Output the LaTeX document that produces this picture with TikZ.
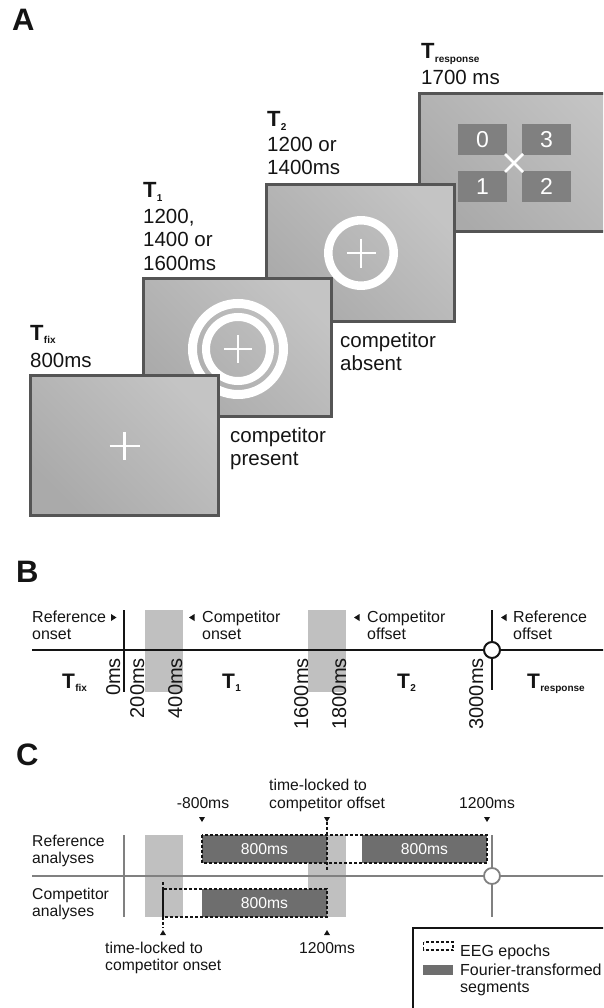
\documentclass[tikz,border=0pt]{standalone}
\usepackage{fontspec}
\setmainfont{Liberation Sans}
\definecolor{scrborder}{RGB}{85,85,85}
\definecolor{scrA}{RGB}{170,170,170}
\definecolor{scrB}{RGB}{196,196,196}
\definecolor{digbox}{RGB}{128,128,128}
\definecolor{bandgray}{RGB}{192,192,192}
\definecolor{axisgray}{RGB}{128,128,128}
\definecolor{seggray}{RGB}{110,110,110}
\definecolor{ink}{RGB}{20,20,20}
\newcommand\fsz[1]{\fontsize{#1}{#1}\selectfont}
\newcommand\Tlabel[3]{{\bfseries\fsz{#1}T}\kern0.3pt\raisebox{-3.5pt}{\bfseries\fsz{#2}#3}}
\begin{document}
\begin{tikzpicture}[x=1pt,y=-1pt,
  screen/.style={draw=scrborder,line width=3.2pt,left color=scrA,right color=scrB,shading angle=135},
  ring/.style={draw=white},
  whitecross/.style={draw=white,line width=2.6pt},
  digitbox/.style={fill=digbox,draw=none,minimum width=49pt,minimum height=31pt,inner sep=0pt,text=white,font=\fsz{23}},
  txtA/.style={font=\fsz{20.5},inner sep=0pt,anchor=base west,text=ink},
  txtB/.style={font=\fsz{16},inner sep=0pt,anchor=base west,text=ink},
  txtC/.style={font=\fsz{15.7},inner sep=0pt,anchor=base west,text=ink},
  txtCc/.style={font=\fsz{15.7},inner sep=0pt,anchor=base,text=ink},
  segtxt/.style={font=\fsz{15.7},inner sep=0pt,text=white},
  rotlab/.style={font=\fsz{20},inner sep=0pt,rotate=90,anchor=base east,text=ink},
  panel/.style={font=\bfseries\fsz{31},inner sep=0pt,anchor=base west,text=ink},
  band/.style={fill=bandgray,draw=none},
  seg/.style={fill=seggray,draw=none},
  epoch/.style={draw=ink,line width=1.4pt,dash pattern=on 3pt off 2pt},
  triR/.pic={\fill[ink] (-2.5,-3.5) -- (3,0) -- (-2.5,3.5) -- cycle;},
  triL/.pic={\fill[ink] (2.5,-3.5) -- (-3,0) -- (2.5,3.5) -- cycle;},
  triD/.pic={\fill[ink] (-3,-2.5) -- (3,-2.5) -- (0,2.5) -- cycle;},
  triU/.pic={\fill[ink] (-3,2.5) -- (3,2.5) -- (0,-2.5) -- cycle;},
]
\useasboundingbox (0,0) rectangle (603,1008);
\clip (0,0) rectangle (603,1008);

% ---------------- Panel A ----------------
\node[panel] (labA) at (12,31) {A};

% T_response screen
\draw[screen] (419.5,93.5) rectangle (640,231.5);
\node[digitbox] (k0) at (482.5,139.5) {0};
\node[digitbox] (k3) at (546.5,139.5) {3};
\node[digitbox] (k1) at (482.5,186.5) {1};
\node[digitbox] (k2) at (546.5,186.5) {2};
\draw[whitecross] (505,154) -- (523,172);
\draw[whitecross] (505,172) -- (523,154);

% T2 screen
\draw[screen] (266.5,184.5) rectangle (454.5,321.5);
\draw[ring,line width=8.5pt] (361,253) circle (32.7);
\draw[whitecross] (346.5,253) -- (375.5,253);
\draw[whitecross] (361,238.5) -- (361,267.5);

% T1 screen
\draw[screen] (143.5,278.5) rectangle (331.5,416.5);
\draw[ring,line width=9pt] (238,349) circle (45.5);
\draw[ring,line width=8pt] (238,349) circle (32);
\draw[whitecross] (224,349) -- (252,349);
\draw[whitecross] (238,335) -- (238,363);

% Tfix screen
\draw[screen] (30.5,375.5) rectangle (218.5,515.5);
\draw[whitecross] (109.5,446) -- (139.5,446);
\draw[whitecross] (124.5,432) -- (124.5,460);

% labels
\node[txtA] (trespT) at (421,59) {\Tlabel{22}{10}{response}};
\node[txtA] (trespD) at (421,85) {1700 ms};
\node[txtA] (t2T) at (267,127) {\Tlabel{22}{10}{2}};
\node[txtA] (t2a) at (267,152) {1200 or};
\node[txtA] (t2b) at (267,175) {1400ms};
\node[txtA] (t1T) at (143,198) {\Tlabel{22}{10}{1}};
\node[txtA] (t1a) at (143,223) {1200,};
\node[txtA] (t1b) at (143,247) {1400 or};
\node[txtA] (t1c) at (143,270) {1600ms};
\node[txtA] (tfT) at (30,340) {\Tlabel{22}{10}{fix}};
\node[txtA] (tfa) at (30,367) {800ms};
\node[txtA] (abs1) at (340,347) {competitor};
\node[txtA] (abs2) at (340,370) {absent};
\node[txtA] (pres1) at (230,442) {competitor};
\node[txtA] (pres2) at (230,465) {present};

% ---------------- Panel B ----------------
\node[panel] (labB) at (16,582) {B};
\fill[band] (145,610) rectangle (183,692);
\fill[band] (308,610) rectangle (346,692);
\draw[ink,line width=2.2pt] (32,650) -- (640,650);
\draw[ink,line width=2pt] (124,610) -- (124,692);
\draw[ink,line width=2pt] (492,610) -- (492,690);
\draw[ink,line width=2pt,fill=white] (492,650) circle (8);

\node[txtB] (bref1) at (32,622) {Reference};
\node[txtB] (bref2) at (32,639) {onset};
\pic at (113.5,617.5) {triR};
\node[txtB] (bcon1) at (202,622) {Competitor};
\node[txtB] (bcon2) at (202,639) {onset};
\pic at (192,617.5) {triL};
\node[txtB] (bcoff1) at (367,622) {Competitor};
\node[txtB] (bcoff2) at (367,639) {offset};
\pic at (357,617.5) {triL};
\node[txtB] (broff1) at (513,622) {Reference};
\node[txtB] (broff2) at (513,639) {offset};
\pic at (504,617.5) {triL};

\node[rotlab] (ms0) at (120,658) {0ms};
\node[rotlab] (ms200) at (144,658) {200ms};
\node[rotlab] (ms400) at (182,658) {400ms};
\node[rotlab] (ms1600) at (308,658) {1600ms};
\node[rotlab] (ms1800) at (346,658) {1800ms};
\node[rotlab] (ms3000) at (483,658) {3000ms};

\node[txtA] (bTfix) at (62,688) {\Tlabel{21}{10}{fix}};
\node[txtA] (bT1) at (222,688) {\Tlabel{21}{10}{1}};
\node[txtA] (bT2) at (397,688) {\Tlabel{21}{10}{2}};
\node[txtA] (bTr) at (527,688) {\Tlabel{21}{10}{response}};

% ---------------- Panel C ----------------
\node[panel] (labC) at (16,765) {C};
\fill[band] (145,835) rectangle (183,917);
\fill[band] (308,835) rectangle (346,917);
\fill[seg] (202,835) rectangle (327,863);
\fill[seg] (362,835) rectangle (487,863);
\fill[seg] (202,889) rectangle (327,917);
\draw[axisgray,line width=2.5pt] (32,876) -- (640,876);
\draw[axisgray,line width=2pt] (124,835) -- (124,917);
\draw[axisgray,line width=2pt] (492,835) -- (492,917);
\draw[axisgray,line width=1.8pt,fill=white] (492,876) circle (8);
\draw[epoch] (202,835) rectangle (487,863);
\draw[epoch] (163,889) rectangle (327,917);
\draw[epoch] (327,822) -- (327,870);
\draw[epoch] (163,882) -- (163,928);

\node[segtxt] (s1) at (264.5,849) {800ms};
\node[segtxt] (s2) at (424.5,849) {800ms};
\node[segtxt] (s3) at (264.5,903) {800ms};

\node[txtC] (cref1) at (32,846) {Reference};
\node[txtC] (cref2) at (32,863) {analyses};
\node[txtC] (ccomp1) at (32,899) {Competitor};
\node[txtC] (ccomp2) at (32,916) {analyses};

\node[txtCc] (m800) at (203,808) {-800ms};
\node[txtC] (tlo1) at (269,790) {time-locked to};
\node[txtC] (tlo2) at (269,808) {competitor offset};
\node[txtCc] (p1200a) at (487,808) {1200ms};
\pic at (202,819.5) {triD};
\pic at (327,819.5) {triD};
\pic at (487,819.5) {triD};

\pic at (163,932.5) {triU};
\pic at (327,932.5) {triU};
\node[txtC] (tln1) at (105,953) {time-locked to};
\node[txtC] (tln2) at (105,970) {competitor onset};
\node[txtCc] (p1200b) at (327,953) {1200ms};

% legend
\draw[ink,line width=1.5pt] (413,928) rectangle (640,1040);
\draw[epoch,line width=1.2pt] (423.5,942) rectangle (453,950);
\fill[seg] (423,965) rectangle (453,975);
\node[txtC,font=\fsz{16}] (leg1) at (460,956) {EEG epochs};
\node[txtC,font=\fsz{16}] (leg2) at (460,975) {Fourier-transformed};
\node[txtC,font=\fsz{16}] (leg3) at (460,992) {segments};
\end{tikzpicture}
\end{document}
